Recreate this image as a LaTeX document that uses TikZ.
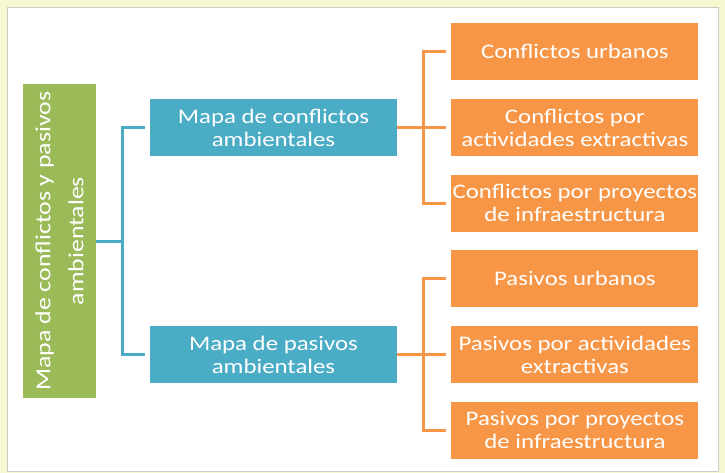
\documentclass[tikz,border=0pt]{standalone}
\usepackage{fontspec}
\setmainfont{Carlito}[FakeStretch=1.2]
\usepackage{xcolor}
\usetikzlibrary{positioning,calc}
\definecolor{pagebg}{HTML}{F7F7D0}
\definecolor{rootgreen}{HTML}{9BBB59}
\definecolor{mapblue}{HTML}{4BACC6}
\definecolor{itemorange}{HTML}{F79646}

\begin{document}
\begin{tikzpicture}[x=1pt,y=-1pt,
    box/.style={rectangle, text=white, align=center, inner sep=0pt,
      minimum width=247pt, minimum height=57pt,
      font=\fontsize{20.7}{23}\selectfont},
    mapbox/.style={box, fill=mapblue},
    itembox/.style={box, fill=itemorange},
    rootbox/.style={rectangle, fill=rootgreen, text=white, align=center,
      inner sep=0pt, rotate=90, minimum width=314pt, minimum height=73pt,
      font=\fontsize{21.5}{33}\selectfont},
    bluelink/.style={draw=mapblue, line width=3pt},
    orangelink/.style={draw=itemorange, line width=3pt},
    node distance=18.5pt]
    % Background and panel
    \fill[pagebg] (0,0) rectangle (725,473);
    \draw[black!20, fill=white] (7,7) rectangle (718,471);

    % Root
    \node[rootbox] (root) at (59.5,241) {Mapa de conflictos y pasivos\\ambientales};

    % Maps
    \node[mapbox] (mapaC) at (273.5,127.5) {Mapa de conflictos\\ambientales};
    \node[mapbox] (mapaP) at (273.5,354.5) {Mapa de pasivos\\ambientales};

    % Conflicts
    \node[itembox, right=54pt of mapaC] (ca) {Conflictos por\\actividades extractivas};
    \node[itembox, above=of ca] (cu) {Conflictos urbanos};
    \node[itembox, below=of ca] (ci) {Conflictos por proyectos\\de infraestructura};

    % Liabilities
    \node[itembox, right=54pt of mapaP] (pa) {Pasivos por actividades\\extractivas};
    \node[itembox, above=of pa] (pu) {Pasivos urbanos};
    \node[itembox, below=of pa] (pi) {Pasivos por proyectos\\de infraestructura};

    % Blue bracket
    \draw[bluelink] (root.south) -- ++(26,0) coordinate (jroot);
    \draw[bluelink, shorten >=5pt] (jroot) |- (mapaC.west);
    \draw[bluelink, shorten >=5pt] (jroot) |- (mapaP.west);

    % Orange brackets
    \draw[orangelink] (mapaC.east) -- ++(26,0) coordinate (jc);
    \foreach \n in {cu,ca,ci}
      \draw[orangelink, shorten >=5pt] (jc) |- (\n.west);
    \draw[orangelink] (mapaP.east) -- ++(26,0) coordinate (jp);
    \foreach \n in {pu,pa,pi}
      \draw[orangelink, shorten >=5pt] (jp) |- (\n.west);
\end{tikzpicture}
\end{document}
